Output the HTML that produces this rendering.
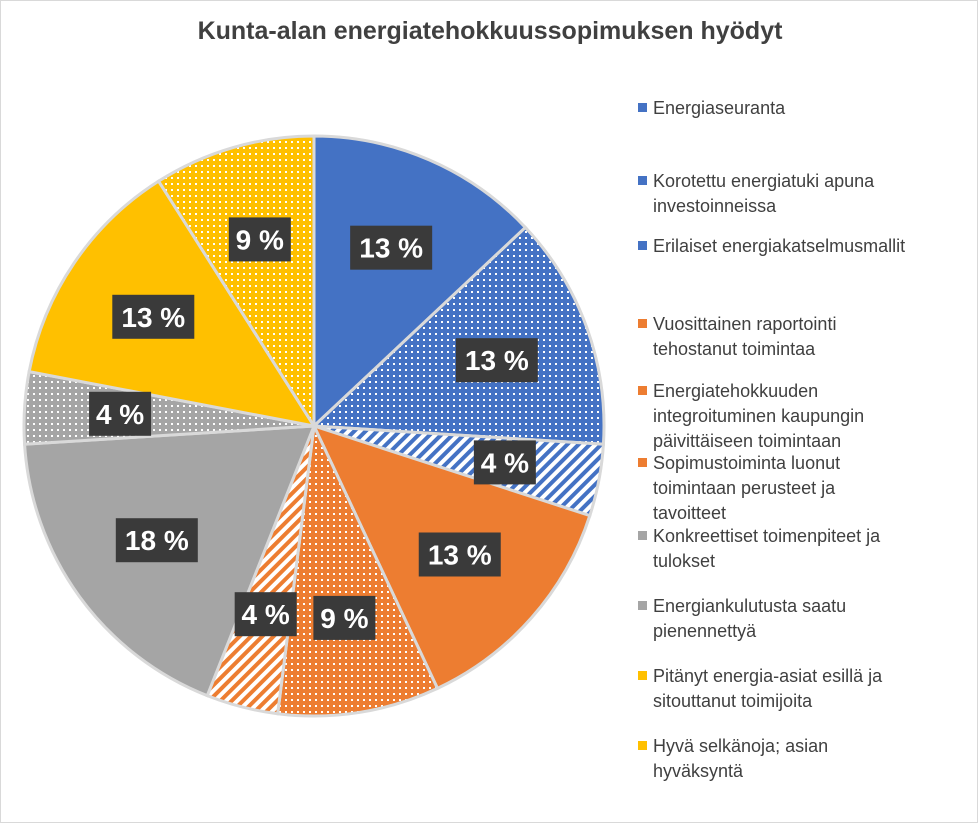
<!DOCTYPE html>
<html><head><meta charset="utf-8"><style>
body{margin:0;background:#fff;font-family:"Liberation Sans",Arial,sans-serif}
#wrap{position:relative;width:978px;height:823px;border:1px solid #d9d9d9;box-sizing:border-box;overflow:hidden}
.title{position:absolute;left:0;width:978px;top:16px;text-align:center;font-size:25px;font-weight:bold;color:#404040}
.leg{position:absolute;left:640px;font-size:18px;color:#404040;line-height:25px;width:330px}
.leg i{position:absolute;left:-3px;top:7px;width:9px;height:9px}
.leg span{display:block;padding-left:12px}
</style></head><body>
<div id="wrap">
<div class="title">Kunta-alan energiatehokkuussopimuksen hyödyt</div>
<svg id="pie" width="978" height="823" style="position:absolute;left:0;top:0">
<defs>
<pattern id="dotB" width="6" height="6" patternUnits="userSpaceOnUse"><rect width="6" height="6" fill="#4472c4"/><rect x="2" y="2" width="2" height="2" fill="#fff"/></pattern>
<pattern id="dotO" width="6" height="6" patternUnits="userSpaceOnUse"><rect width="6" height="6" fill="#ed7d31"/><rect x="2" y="2" width="2" height="2" fill="#fff"/></pattern>
<pattern id="dotG" width="6" height="6" patternUnits="userSpaceOnUse"><rect width="6" height="6" fill="#a5a5a5"/><rect x="2" y="2" width="2" height="2" fill="#fff"/></pattern>
<pattern id="dotY" width="6" height="6" patternUnits="userSpaceOnUse"><rect width="6" height="6" fill="#ffc000"/><rect x="2" y="2" width="2" height="2" fill="#fff"/></pattern>
<pattern id="strB" width="8" height="8" patternUnits="userSpaceOnUse" patternTransform="rotate(45)"><rect width="8" height="8" fill="#fff"/><rect width="4" height="8" fill="#4472c4"/></pattern>
<pattern id="strO" width="8" height="8" patternUnits="userSpaceOnUse" patternTransform="rotate(45)"><rect width="8" height="8" fill="#fff"/><rect width="4" height="8" fill="#ed7d31"/></pattern>
</defs>
</svg>
<div id="legend"></div>
</div>
<script>
const categories=["Energiaseuranta","Korotettu energiatuki apuna investoinneissa","Erilaiset energiakatselmusmallit","Vuosittainen raportointi tehostanut toimintaa","Energiatehokkuuden integroituminen kaupungin päivittäiseen toimintaan","Sopimustoiminta luonut toimintaan perusteet ja tavoitteet","Konkreettiset toimenpiteet ja tulokset","Energiankulutusta saatu pienennettyä","Pitänyt energia-asiat esillä ja sitouttanut toimijoita","Hyvä selkänoja; asian hyväksyntä"];
const values=[13,13,4,13,9,4,18,4,13,9];
const fills=["#4472c4","url(#dotB)","url(#strB)","#ed7d31","url(#dotO)","url(#strO)","#a5a5a5","url(#dotG)","#ffc000","url(#dotY)"];
const legendLines=[["Energiaseuranta"],["Korotettu energiatuki apuna","investoinneissa"],["Erilaiset energiakatselmusmallit"],["Vuosittainen raportointi","tehostanut toimintaa"],["Energiatehokkuuden","integroituminen kaupungin","päivittäiseen toimintaan"],["Sopimustoiminta luonut","toimintaan perusteet ja","tavoitteet"],["Konkreettiset toimenpiteet ja","tulokset"],["Energiankulutusta saatu","pienennettyä"],["Pitänyt energia-asiat esillä ja","sitouttanut toimijoita"],["Hyvä selkänoja; asian","hyväksyntä"]];
const legendTop=[95,168,233,311,378,450,523,593,663,733];
const cx=313,cy=425,R=290,NS="http://www.w3.org/2000/svg";
const svg=document.getElementById('pie');
const total=values.reduce((a,b)=>a+b,0);
function pt(a,r){return [cx+r*Math.sin(a),cy-r*Math.cos(a)];}
let a0=0;
values.forEach((v,i)=>{
 const a1=a0+v/total*2*Math.PI;
 const p0=pt(a0,R),p1=pt(a1,R);
 const path=document.createElementNS(NS,'path');
 path.setAttribute('d',`M${cx},${cy}L${p0[0]},${p0[1]}A${R},${R} 0 ${a1-a0>Math.PI?1:0} 1 ${p1[0]},${p1[1]}Z`);
 path.setAttribute('fill',fills[i]);path.setAttribute('stroke','#d9d9d9');path.setAttribute('stroke-width','3');
 
 
 svg.appendChild(path);
 a0=a1;
});
a0=0;
values.forEach((v,i)=>{
 const a1=a0+v/total*2*Math.PI;
 const m=pt((a0+a1)/2,R*0.67);
 const txt=v+" %";
 const w=txt.length>3?82:62;
 const g=document.createElementNS(NS,'g');
 
 
 const r=document.createElementNS(NS,'rect');
 r.setAttribute('x',m[0]-w/2);r.setAttribute('y',m[1]-22);r.setAttribute('width',w);r.setAttribute('height',44);r.setAttribute('fill','#3a3a3a');
 const t=document.createElementNS(NS,'text');
 t.setAttribute('x',m[0]);t.setAttribute('y',m[1]+10);t.setAttribute('text-anchor','middle');t.setAttribute('fill','#fff');
 t.setAttribute('font-size','28');t.setAttribute('font-weight','bold');t.setAttribute('font-family','Liberation Sans, Arial, sans-serif');
 t.textContent=txt;
 g.appendChild(r);g.appendChild(t);svg.appendChild(g);
 a0=a1;
});
const leg=document.getElementById('legend');
categories.forEach((c,i)=>{
 const d=document.createElement('div');d.className='leg';d.style.top=legendTop[i]+'px';
 
 
 const sw=document.createElement('i');
 sw.style.background=['#4472c4','#4472c4','#4472c4','#ed7d31','#ed7d31','#ed7d31','#a5a5a5','#a5a5a5','#ffc000','#ffc000'][i];
 d.appendChild(sw);
 const s=document.createElement('span');s.innerHTML=legendLines[i].join('<br>');
 d.appendChild(s);leg.appendChild(d);
});
</script>
</body></html>
